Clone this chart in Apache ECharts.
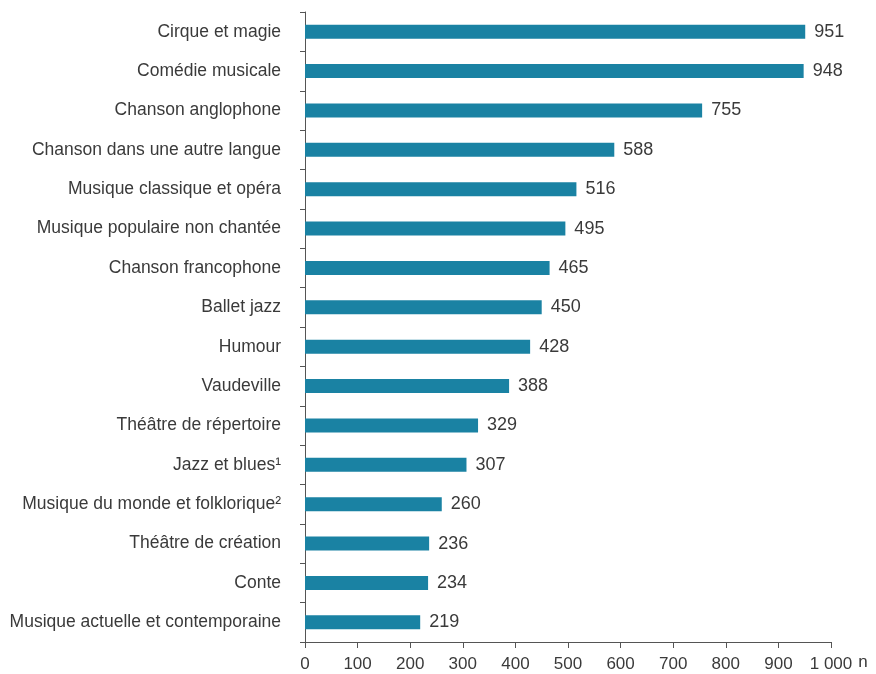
<!DOCTYPE html>
<html><head><meta charset="utf-8">
<script src="https://cdn.jsdelivr.net/npm/echarts@6/dist/echarts.min.js"></script>
<style>html,body{margin:0;padding:0;background:#fff}#c{width:876px;height:674px}</style>
</head><body><div id="c"></div>
<script>
const categories = ["Cirque et magie","Comédie musicale","Chanson anglophone","Chanson dans une autre langue","Musique classique et opéra","Musique populaire non chantée","Chanson francophone","Ballet jazz","Humour","Vaudeville","Théâtre de répertoire","Jazz et blues¹","Musique du monde et folklorique²","Théâtre de création","Conte","Musique actuelle et contemporaine"];
const values = [951,948,755,588,516,495,465,450,428,388,329,307,260,236,234,219];
const xTicks = [0,100,200,300,400,500,600,700,800,900,1000];
const FONT = "Liberation Sans";
const chart = echarts.init(document.getElementById('c'));
chart.setOption({
  animation:false,
  textStyle:{fontFamily:FONT},
  grid:{left:305,right:45,top:12,bottom:32,containLabel:false},
  xAxis:{type:'value',min:xTicks[0],max:xTicks[xTicks.length-1],interval:100,
    name:'n',nameLocation:'end',nameGap:14,nameTextStyle:{fontFamily:FONT,fontSize:17,color:'#3a3a3a',verticalAlign:'top',padding:[12,0,0,0]},
    axisLine:{show:true,lineStyle:{color:'#555',width:1}},
    axisTick:{show:true,length:6,lineStyle:{color:'#555'}},
    splitLine:{show:false},
    axisLabel:{fontFamily:FONT,fontSize:17,color:'#3a3a3a',margin:14,
      formatter:v=>v>=1000?String(v).replace(/\B(?=(\d{3})+(?!\d))/g,' '):String(v)}},
  yAxis:{type:'category',data:categories,inverse:true,
    axisLine:{show:true,lineStyle:{color:'#555',width:1}},
    axisTick:{show:true,length:5,inside:false,lineStyle:{color:'#555'}},
    axisLabel:{fontFamily:FONT,fontSize:17.5,color:'#3a3a3a',margin:24}},
  series:[{type:'bar',data:values,barWidth:14,
    itemStyle:{color:'#1a82a3'},
    label:{show:true,position:'right',distance:9,fontFamily:FONT,fontSize:18,color:'#3a3a3a'}}]
});
</script></body></html>
